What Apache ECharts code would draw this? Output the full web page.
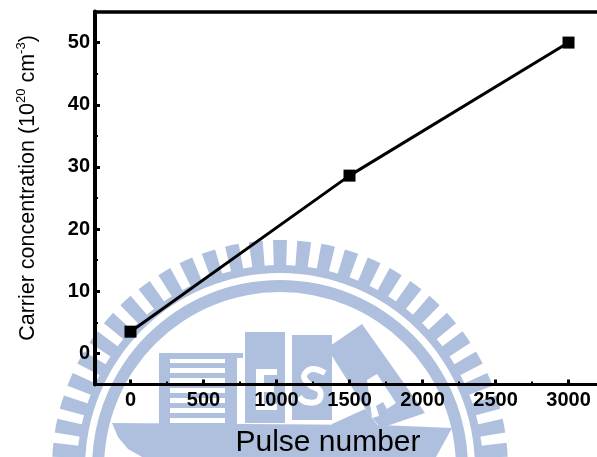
<!DOCTYPE html>
<html>
<head>
<meta charset="utf-8">
<style>
	html, body { margin: 0; padding: 0; background: #fff; }
	#chart { width: 597px; height: 457px; }
</style>
<script src="https://cdn.jsdelivr.net/npm/echarts@6/dist/echarts.min.js"></script>
</head>
<body>
<div id="chart"></div>
<script>
var pulseNumber = [0, 1500, 3000];
var carrierConc = [3.5, 28.6, 50];

var xMajorTicks = [0, 500, 1000, 1500, 2000, 2500, 3000];
var xMinorTicks = [250, 750, 1250, 1750, 2250, 2750];
var yMajorTicks = [0, 10, 20, 30, 40, 50];
var yMinorTicks = [5, 15, 25, 35, 45];

var BLACK = '#000';
var FONT = '"Liberation Sans", Arial, sans-serif';
var MARK = '#afc0de';

// 背景水印 (校徽)
function poly(points, color) {
	return { type: 'polygon', silent: true, z: -1, shape: { points: points }, style: { fill: color } };
}
function box(x, y, w, h, color) {
	return { type: 'rect', silent: true, z: -1, shape: { x: x, y: y, width: w, height: h }, style: { fill: color } };
}
function watermark() {
	var cx = 280, cy = 468, list = [];
	for (var a = -90 - 6.1 * 30; a < 270 - 90; a += 6.1) {
		list.push({
			type: 'sector', silent: true, z: -1,
			shape: {
				cx: cx, cy: cy, r: 228, r0: 200,
				startAngle: (a - 1.75) * Math.PI / 180,
				endAngle: (a + 1.75) * Math.PI / 180
			},
			style: { fill: MARK }
		});
	}
	list.push({ type: 'ring', silent: true, z: -1, shape: { cx: cx, cy: cy, r: 203, r0: 195 }, style: { fill: MARK } });
	list.push({ type: 'ring', silent: true, z: -1, shape: { cx: cx, cy: cy, r: 188, r0: 176 }, style: { fill: MARK } });

	// 底座
	list.push(poly([[112, 423], [380, 425], [452, 428], [436, 457], [142, 457], [128, 449], [118, 437]], MARK));

	// 左边的楼
	list.push(box(159, 353, 66, 71, MARK));
	var stripes = [[359, 4], [368, 5], [378, 5], [388, 5], [398, 5], [408, 5], [418, 5]];
	stripes.forEach(function (s) { list.push(box(170, s[0], 55, s[1], '#fff')); });
	list.push(box(225, 353, 12, 73, MARK));
	list.push(box(225, 353, 18, 5, MARK));

	// E
	list.push(box(245, 332, 40, 91, MARK));
	list.push(box(256, 369, 21, 6, '#fff'));
	list.push(box(256, 369, 8, 41, '#fff'));
	list.push(box(256, 386, 18, 6, '#fff'));
	list.push(box(256, 404, 21, 6, '#fff'));

	// S
	list.push(box(292, 335, 40, 85, MARK));
	list.push({
		type: 'polyline', silent: true, z: -1,
		shape: { points: [[325, 373], [312, 369], [304, 376], [310, 385], [320, 391], [318, 401], [306, 402], [299, 397]], smooth: 0.4 },
		style: { stroke: '#fff', lineWidth: 6, fill: 'none' }
	});

	// A
	list.push(poly([[327, 348], [362, 324], [425, 413], [381, 428], [368, 413]], MARK));
	list.push(poly([[332, 424], [365, 409], [380, 428], [332, 428]], MARK));
	list.push(poly([[367, 380], [377, 374], [396, 403], [387, 409], [383, 402], [376, 406], [379, 416], [372, 418]], '#fff'));
	return list;
}

function plainNumber(v) {
	return String(v);
}

var xMin = -243, xMax = 3195;
var yMin = -5, yMax = 55;

var myChart = echarts.init(document.getElementById('chart'));
myChart.setOption({
	animation: false,
	backgroundColor: '#fff',
	graphic: watermark(),
	grid: { left: 95, right: 0, top: 11.5, bottom: 72.5, containLabel: false, outerBoundsMode: 'none' },
	xAxis: [
		{
			type: 'value', min: xMin, max: xMax, position: 'bottom',
			name: 'Pulse number', nameLocation: 'middle', nameGap: 43,
			nameTextStyle: { fontFamily: FONT, fontSize: 30, color: BLACK, padding: [0, 36, 0, 0] },
			axisLine: { show: true, onZero: false, lineStyle: { color: BLACK, width: 3 } },
			axisTick: { show: true, inside: true, length: 5, customValues: xMajorTicks, lineStyle: { color: BLACK, width: 3 } },
			axisLabel: { show: true, margin: 6, customValues: xMajorTicks, formatter: plainNumber, fontFamily: FONT, fontSize: 20, fontWeight: 'bold', color: BLACK },
			splitLine: { show: false }
		},
		{
			type: 'value', min: xMin, max: xMax, position: 'bottom',
			axisLine: { show: false, onZero: false },
			axisTick: { show: true, inside: true, length: 3, customValues: xMinorTicks, lineStyle: { color: BLACK, width: 2 } },
			axisLabel: { show: false },
			splitLine: { show: false }
		},
		{
			type: 'value', min: xMin, max: xMax, position: 'top',
			axisLine: { show: true, onZero: false, lineStyle: { color: BLACK, width: 3.5 } },
			axisTick: { show: false },
			axisLabel: { show: false },
			splitLine: { show: false }
		}
	],
	yAxis: [
		{
			type: 'value', min: yMin, max: yMax, position: 'left',
			name: '{n|Carrier concentration (10}{s|20}{n| cm}{s|-3}{n|)}',
			nameLocation: 'middle', nameGap: 54, nameRotate: 90,
			nameTextStyle: {
				fontFamily: FONT, color: BLACK, padding: [0, 0, 0, 20],
				rich: {
					n: { fontFamily: FONT, fontSize: 21.5, color: BLACK, lineHeight: 26 },
					s: { fontFamily: FONT, fontSize: 13, color: BLACK, verticalAlign: 'top', lineHeight: 26 }
				}
			},
			axisLine: { show: true, onZero: false, lineStyle: { color: BLACK, width: 4 } },
			axisTick: { show: true, inside: true, length: 5, customValues: yMajorTicks, lineStyle: { color: BLACK, width: 3 } },
			axisLabel: { show: true, margin: 5, customValues: yMajorTicks, formatter: plainNumber, fontFamily: FONT, fontSize: 20, fontWeight: 'bold', color: BLACK },
			splitLine: { show: false }
		},
		{
			type: 'value', min: yMin, max: yMax, position: 'left',
			axisLine: { show: false, onZero: false },
			axisTick: { show: true, inside: true, length: 3, customValues: yMinorTicks, lineStyle: { color: BLACK, width: 2 } },
			axisLabel: { show: false },
			splitLine: { show: false }
		}
	],
	series: [
		{
			type: 'line',
			xAxisIndex: 0,
			yAxisIndex: 0,
			data: pulseNumber.map(function (x, i) { return [x, carrierConc[i]]; }),
			symbol: 'rect',
			symbolSize: 12,
			itemStyle: { color: BLACK },
			lineStyle: { color: BLACK, width: 3 },
			z: 5
		}
	]
});
</script>
</body>
</html>
